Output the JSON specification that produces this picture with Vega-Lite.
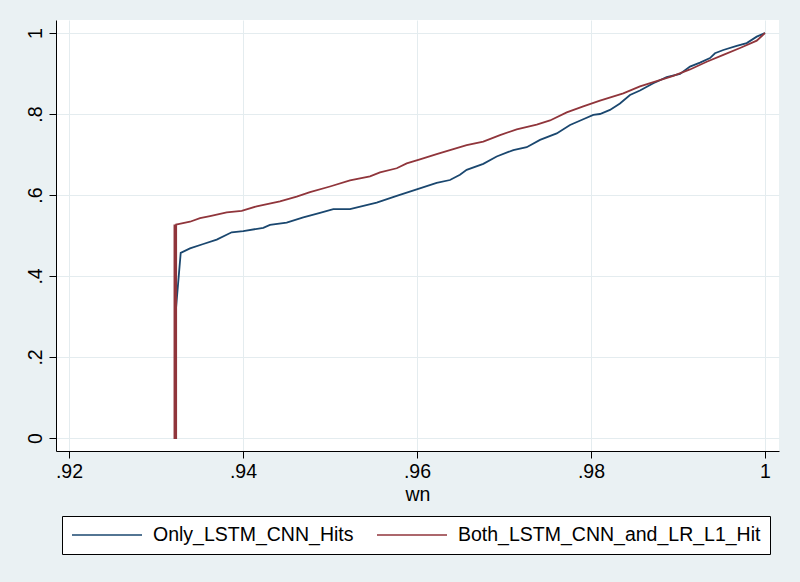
{
  "$schema": "https://vega.github.io/schema/vega-lite/v6.json",
  "width": 723,
  "height": 431,
  "autosize": {"type": "none"},
  "padding": {"left": 56, "top": 20, "right": 21, "bottom": 131},
  "background": "#eaf1f3",
  "config": {"view": {"fill": "white", "stroke": null}, "font": "Liberation Sans"},
  "data": {"values": [
    {"series": "Only_LSTM_CNN_Hits", "i": 1, "wn": 0.93218, "value": 0},
    {"series": "Only_LSTM_CNN_Hits", "i": 2, "wn": 0.93218, "value": 0.29},
    {"series": "Only_LSTM_CNN_Hits", "i": 3, "wn": 0.93284, "value": 0.457},
    {"series": "Only_LSTM_CNN_Hits", "i": 4, "wn": 0.93391, "value": 0.468},
    {"series": "Only_LSTM_CNN_Hits", "i": 5, "wn": 0.93544, "value": 0.479},
    {"series": "Only_LSTM_CNN_Hits", "i": 6, "wn": 0.93698, "value": 0.490},
    {"series": "Only_LSTM_CNN_Hits", "i": 7, "wn": 0.93870, "value": 0.508},
    {"series": "Only_LSTM_CNN_Hits", "i": 8, "wn": 0.94003, "value": 0.511},
    {"series": "Only_LSTM_CNN_Hits", "i": 9, "wn": 0.94233, "value": 0.519},
    {"series": "Only_LSTM_CNN_Hits", "i": 10, "wn": 0.94310, "value": 0.526},
    {"series": "Only_LSTM_CNN_Hits", "i": 11, "wn": 0.94502, "value": 0.532},
    {"series": "Only_LSTM_CNN_Hits", "i": 12, "wn": 0.94693, "value": 0.545},
    {"series": "Only_LSTM_CNN_Hits", "i": 13, "wn": 0.94885, "value": 0.556},
    {"series": "Only_LSTM_CNN_Hits", "i": 14, "wn": 0.95038, "value": 0.565},
    {"series": "Only_LSTM_CNN_Hits", "i": 15, "wn": 0.95230, "value": 0.565},
    {"series": "Only_LSTM_CNN_Hits", "i": 16, "wn": 0.95537, "value": 0.581},
    {"series": "Only_LSTM_CNN_Hits", "i": 17, "wn": 0.95767, "value": 0.598},
    {"series": "Only_LSTM_CNN_Hits", "i": 18, "wn": 0.95997, "value": 0.614},
    {"series": "Only_LSTM_CNN_Hits", "i": 19, "wn": 0.96226, "value": 0.630},
    {"series": "Only_LSTM_CNN_Hits", "i": 20, "wn": 0.96379, "value": 0.637},
    {"series": "Only_LSTM_CNN_Hits", "i": 21, "wn": 0.96494, "value": 0.650},
    {"series": "Only_LSTM_CNN_Hits", "i": 22, "wn": 0.96571, "value": 0.662},
    {"series": "Only_LSTM_CNN_Hits", "i": 23, "wn": 0.96762, "value": 0.677},
    {"series": "Only_LSTM_CNN_Hits", "i": 24, "wn": 0.96916, "value": 0.695},
    {"series": "Only_LSTM_CNN_Hits", "i": 25, "wn": 0.97107, "value": 0.711},
    {"series": "Only_LSTM_CNN_Hits", "i": 26, "wn": 0.97261, "value": 0.718},
    {"series": "Only_LSTM_CNN_Hits", "i": 27, "wn": 0.97414, "value": 0.736},
    {"series": "Only_LSTM_CNN_Hits", "i": 28, "wn": 0.97606, "value": 0.752},
    {"series": "Only_LSTM_CNN_Hits", "i": 29, "wn": 0.97759, "value": 0.773},
    {"series": "Only_LSTM_CNN_Hits", "i": 30, "wn": 0.97911, "value": 0.787},
    {"series": "Only_LSTM_CNN_Hits", "i": 31, "wn": 0.98026, "value": 0.798},
    {"series": "Only_LSTM_CNN_Hits", "i": 32, "wn": 0.98103, "value": 0.800},
    {"series": "Only_LSTM_CNN_Hits", "i": 33, "wn": 0.98218, "value": 0.810},
    {"series": "Only_LSTM_CNN_Hits", "i": 34, "wn": 0.98333, "value": 0.826},
    {"series": "Only_LSTM_CNN_Hits", "i": 35, "wn": 0.98448, "value": 0.847},
    {"series": "Only_LSTM_CNN_Hits", "i": 36, "wn": 0.98563, "value": 0.858},
    {"series": "Only_LSTM_CNN_Hits", "i": 37, "wn": 0.98716, "value": 0.876},
    {"series": "Only_LSTM_CNN_Hits", "i": 38, "wn": 0.98870, "value": 0.891},
    {"series": "Only_LSTM_CNN_Hits", "i": 39, "wn": 0.99023, "value": 0.899},
    {"series": "Only_LSTM_CNN_Hits", "i": 40, "wn": 0.99138, "value": 0.917},
    {"series": "Only_LSTM_CNN_Hits", "i": 41, "wn": 0.99253, "value": 0.927},
    {"series": "Only_LSTM_CNN_Hits", "i": 42, "wn": 0.99368, "value": 0.938},
    {"series": "Only_LSTM_CNN_Hits", "i": 43, "wn": 0.99425, "value": 0.950},
    {"series": "Only_LSTM_CNN_Hits", "i": 44, "wn": 0.99521, "value": 0.958},
    {"series": "Only_LSTM_CNN_Hits", "i": 45, "wn": 0.99675, "value": 0.968},
    {"series": "Only_LSTM_CNN_Hits", "i": 46, "wn": 0.99790, "value": 0.975},
    {"series": "Only_LSTM_CNN_Hits", "i": 47, "wn": 0.99905, "value": 0.991},
    {"series": "Only_LSTM_CNN_Hits", "i": 48, "wn": 1.0, "value": 1.0},
    {"series": "Both_LSTM_CNN_and_LR_L1_Hit", "i": 1, "wn": 0.93212, "value": 0.527},
    {"series": "Both_LSTM_CNN_and_LR_L1_Hit", "i": 2, "wn": 0.93212, "value": 0},
    {"series": "Both_LSTM_CNN_and_LR_L1_Hit", "i": 3, "wn": 0.93232, "value": 0},
    {"series": "Both_LSTM_CNN_and_LR_L1_Hit", "i": 4, "wn": 0.93232, "value": 0.527},
    {"series": "Both_LSTM_CNN_and_LR_L1_Hit", "i": 5, "wn": 0.93256, "value": 0.528},
    {"series": "Both_LSTM_CNN_and_LR_L1_Hit", "i": 6, "wn": 0.93391, "value": 0.534},
    {"series": "Both_LSTM_CNN_and_LR_L1_Hit", "i": 7, "wn": 0.93506, "value": 0.543},
    {"series": "Both_LSTM_CNN_and_LR_L1_Hit", "i": 8, "wn": 0.93621, "value": 0.548},
    {"series": "Both_LSTM_CNN_and_LR_L1_Hit", "i": 9, "wn": 0.93813, "value": 0.557},
    {"series": "Both_LSTM_CNN_and_LR_L1_Hit", "i": 10, "wn": 0.93985, "value": 0.561},
    {"series": "Both_LSTM_CNN_and_LR_L1_Hit", "i": 11, "wn": 0.94157, "value": 0.572},
    {"series": "Both_LSTM_CNN_and_LR_L1_Hit", "i": 12, "wn": 0.94425, "value": 0.584},
    {"series": "Both_LSTM_CNN_and_LR_L1_Hit", "i": 13, "wn": 0.94617, "value": 0.596},
    {"series": "Both_LSTM_CNN_and_LR_L1_Hit", "i": 14, "wn": 0.94770, "value": 0.607},
    {"series": "Both_LSTM_CNN_and_LR_L1_Hit", "i": 15, "wn": 0.95000, "value": 0.621},
    {"series": "Both_LSTM_CNN_and_LR_L1_Hit", "i": 16, "wn": 0.95230, "value": 0.636},
    {"series": "Both_LSTM_CNN_and_LR_L1_Hit", "i": 17, "wn": 0.95460, "value": 0.646},
    {"series": "Both_LSTM_CNN_and_LR_L1_Hit", "i": 18, "wn": 0.95575, "value": 0.656},
    {"series": "Both_LSTM_CNN_and_LR_L1_Hit", "i": 19, "wn": 0.95767, "value": 0.666},
    {"series": "Both_LSTM_CNN_and_LR_L1_Hit", "i": 20, "wn": 0.95882, "value": 0.678},
    {"series": "Both_LSTM_CNN_and_LR_L1_Hit", "i": 21, "wn": 0.96034, "value": 0.688},
    {"series": "Both_LSTM_CNN_and_LR_L1_Hit", "i": 22, "wn": 0.96226, "value": 0.701},
    {"series": "Both_LSTM_CNN_and_LR_L1_Hit", "i": 23, "wn": 0.96379, "value": 0.711},
    {"series": "Both_LSTM_CNN_and_LR_L1_Hit", "i": 24, "wn": 0.96571, "value": 0.723},
    {"series": "Both_LSTM_CNN_and_LR_L1_Hit", "i": 25, "wn": 0.96762, "value": 0.732},
    {"series": "Both_LSTM_CNN_and_LR_L1_Hit", "i": 26, "wn": 0.96954, "value": 0.748},
    {"series": "Both_LSTM_CNN_and_LR_L1_Hit", "i": 27, "wn": 0.97146, "value": 0.762},
    {"series": "Both_LSTM_CNN_and_LR_L1_Hit", "i": 28, "wn": 0.97376, "value": 0.774},
    {"series": "Both_LSTM_CNN_and_LR_L1_Hit", "i": 29, "wn": 0.97529, "value": 0.784},
    {"series": "Both_LSTM_CNN_and_LR_L1_Hit", "i": 30, "wn": 0.97721, "value": 0.804},
    {"series": "Both_LSTM_CNN_and_LR_L1_Hit", "i": 31, "wn": 0.97911, "value": 0.819},
    {"series": "Both_LSTM_CNN_and_LR_L1_Hit", "i": 32, "wn": 0.98103, "value": 0.833},
    {"series": "Both_LSTM_CNN_and_LR_L1_Hit", "i": 33, "wn": 0.98371, "value": 0.851},
    {"series": "Both_LSTM_CNN_and_LR_L1_Hit", "i": 34, "wn": 0.98563, "value": 0.868},
    {"series": "Both_LSTM_CNN_and_LR_L1_Hit", "i": 35, "wn": 0.98755, "value": 0.881},
    {"series": "Both_LSTM_CNN_and_LR_L1_Hit", "i": 36, "wn": 0.98946, "value": 0.894},
    {"series": "Both_LSTM_CNN_and_LR_L1_Hit", "i": 37, "wn": 0.99138, "value": 0.910},
    {"series": "Both_LSTM_CNN_and_LR_L1_Hit", "i": 38, "wn": 0.99330, "value": 0.929},
    {"series": "Both_LSTM_CNN_and_LR_L1_Hit", "i": 39, "wn": 0.99521, "value": 0.946},
    {"series": "Both_LSTM_CNN_and_LR_L1_Hit", "i": 40, "wn": 0.99713, "value": 0.963},
    {"series": "Both_LSTM_CNN_and_LR_L1_Hit", "i": 41, "wn": 0.99905, "value": 0.981},
    {"series": "Both_LSTM_CNN_and_LR_L1_Hit", "i": 42, "wn": 1.0, "value": 1.0}
  ]},
  "mark": {"type": "line", "strokeWidth": 1.8},
  "encoding": {
    "x": {
      "field": "wn", "type": "quantitative",
      "scale": {"domain": [0.918506, 1.001609], "nice": false, "zero": false},
      "axis": {
        "values": [0.92, 0.94, 0.96, 0.98, 1],
        "labelExpr": "datum.value >= 0.9999 ? '1' : substring(format(datum.value, '.2~f'), 1)",
        "title": "wn", "titleFontSize": 19.5, "titleFontWeight": "normal", "titleColor": "black",
        "titlePadding": 5,
        "labelFontSize": 19.5, "labelColor": "black", "labelPadding": 4, "labelFlush": false, "labelOverlap": false,
        "tickSize": 7, "tickColor": "black", "domainColor": "black",
        "grid": true, "gridColor": "#e4ecef"
      }
    },
    "y": {
      "field": "value", "type": "quantitative",
      "scale": {"domain": [-0.0321, 1.0321], "nice": false, "zero": false},
      "axis": {
        "values": [0, 0.2, 0.4, 0.6, 0.8, 1],
        "labelExpr": "datum.value >= 0.9999 ? '1' : datum.value <= 0.0001 ? '0' : substring(format(datum.value, '.1~f'), 1)",
        "title": null,
        "labelFontSize": 19.5, "labelColor": "black", "labelAngle": 270, "labelAlign": "center", "labelBaseline": "alphabetic",
        "labelPadding": 8, "labelFlush": false, "labelOverlap": false,
        "tickSize": 7, "tickColor": "black", "domainColor": "black",
        "grid": true, "gridColor": "#e4ecef"
      }
    },
    "color": {
      "field": "series", "type": "nominal",
      "scale": {"domain": ["Only_LSTM_CNN_Hits", "Both_LSTM_CNN_and_LR_L1_Hit"], "range": ["#1a476f", "#90353b"]},
      "legend": {
        "title": null, "orient": "none", "legendX": 6, "legendY": 496, "direction": "horizontal",
        "symbolType": "stroke", "symbolSize": 4900, "symbolStrokeWidth": 1.6, "clipHeight": 20,
        "labelFontSize": 19.5, "labelColor": "black", "labelOffset": 10, "labelLimit": 600,
        "columnPadding": 22, "padding": 9, "strokeColor": "black", "fillColor": "white"
      }
    },
    "order": {"field": "i", "type": "quantitative"}
  }
}
